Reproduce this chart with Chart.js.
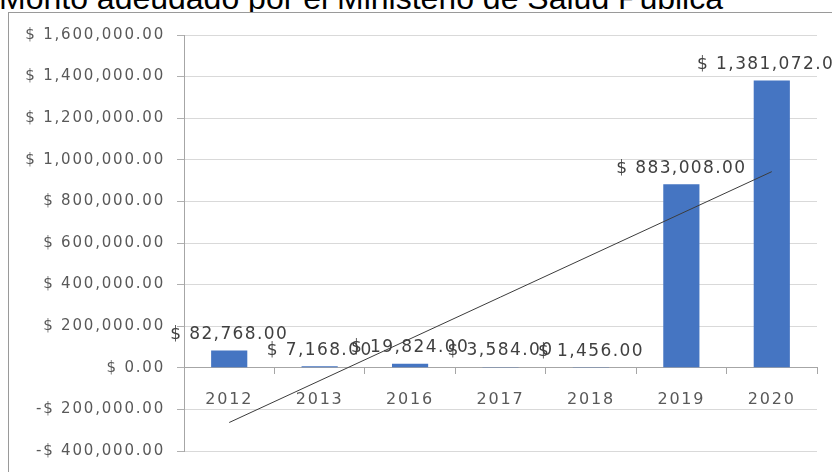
<!DOCTYPE html>
<html>
<head>
<meta charset="utf-8">
<script src="https://cdn.jsdelivr.net/npm/chart.js@4.4.1/dist/chart.umd.min.js"></script>
<style>
    html, body { margin: 0; padding: 0; background: #fff; overflow: hidden; }
    #lienzo { position: relative; width: 832px; height: 472px; overflow: hidden; }
    #titulo {
        position: absolute; left: -1px; top: -18px; z-index: 0;
        font: 32px "Liberation Sans", Arial, sans-serif; line-height: 1;
        color: #000; white-space: nowrap;
    }
    #grafico { position: absolute; left: 0; top: 0; z-index: 1; }
    #marco {
        position: absolute; left: 8px; top: 12px; width: 900px; height: 500px; z-index: 2;
        border: 1px solid #9a9a9a; pointer-events: none;
    }
</style>
</head>
<body>
<div id="lienzo">
    <div id="titulo">Monto adeudado por el Ministerio de Salud Pública</div>
    <canvas id="grafico" width="832" height="472"></canvas>
    <div id="marco"></div>
</div>
<script>
// Datos
const anios = ['2012', '2013', '2016', '2017', '2018', '2019', '2020'];
const montos = [82768, 7168, 19824, 3584, 1456, 883008, 1381072];
// Línea de tendencia (extremos)
const tendencia = [-263000, null, null, null, null, null, 943000];
const ejeMin = -400000;
const ejeMax = 1600000;
const ejePaso = 200000;

// Formato moneda "$ 1,234.00"
function formatoMoneda(valor) {
    const texto = Math.abs(valor).toLocaleString('en-US', { minimumFractionDigits: 2, maximumFractionDigits: 2 });
    return (valor < 0 ? '-$ ' : '$ ') + texto;
}

// Fondo blanco solo dentro del marco (el título queda por debajo)
const fondoPlugin = {
    id: 'fondo',
    beforeDraw(chart) {
        const ctx = chart.ctx;
        ctx.save();
        ctx.fillStyle = '#fff';
        ctx.fillRect(8, 12, chart.width, chart.height);
        ctx.restore();
        // texto de los ejes algo más ancho, como en el original
        ctx.letterSpacing = '1.8px';
    }
};

// Etiquetas de valor encima de cada barra
const etiquetasPlugin = {
    id: 'etiquetas',
    afterDatasetsDraw(chart) {
        const ctx = chart.ctx;
        const meta = chart.getDatasetMeta(0);
        ctx.save();
        ctx.letterSpacing = '1.4px';
        ctx.font = '17px "DejaVu Sans"';
        ctx.fillStyle = '#404040';
        ctx.textAlign = 'center';
        ctx.textBaseline = 'middle';
        meta.data.forEach((barra, i) => {
            ctx.fillText(formatoMoneda(montos[i]), barra.x, barra.y - 16);
        });
        ctx.restore();
    }
};

new Chart(document.getElementById('grafico'), {
    type: 'bar',
    data: {
        labels: anios,
        datasets: [
            {
                label: 'Monto',
                data: montos,
                backgroundColor: '#4575C2',
                borderWidth: 0,
                barPercentage: 0.4,
                categoryPercentage: 1.0,
                order: 1
            },
            {
                type: 'line',
                label: 'Tendencia',
                data: tendencia,
                borderColor: '#3c3c3c',
                borderWidth: 1,
                pointRadius: 0,
                spanGaps: true,
                fill: false,
                order: 0
            }
        ]
    },
    options: {
        responsive: false,
        animation: false,
        layout: { padding: { left: 8, top: 35, right: 15, bottom: 19 } },
        plugins: {
            legend: { display: false },
            tooltip: { enabled: false },
            title: { display: false }
        },
        scales: {
            x: {
                position: { y: 0 },
                offset: true,
                grid: {
                    offset: true,
                    drawOnChartArea: false,
                    drawTicks: true,
                    tickLength: 6,
                    tickColor: '#a6a6a6'
                },
                border: { color: '#a6a6a6' },
                ticks: {
                    color: '#595959',
                    font: { family: 'DejaVu Sans', size: 16 },
                    padding: 16
                }
            },
            y: {
                min: ejeMin,
                max: ejeMax,
                afterFit: (escala) => { escala.width = 176; },
                grid: {
                    color: '#d9d9d9',
                    tickLength: 7,
                    tickColor: '#b0b0b0'
                },
                border: { color: '#a6a6a6' },
                ticks: {
                    stepSize: ejePaso,
                    color: '#595959',
                    font: { family: 'DejaVu Sans', size: 15 },
                    padding: 12,
                    callback: (valor) => formatoMoneda(valor)
                }
            }
        }
    },
    plugins: [fondoPlugin, etiquetasPlugin]
});
</script>
</body>
</html>
